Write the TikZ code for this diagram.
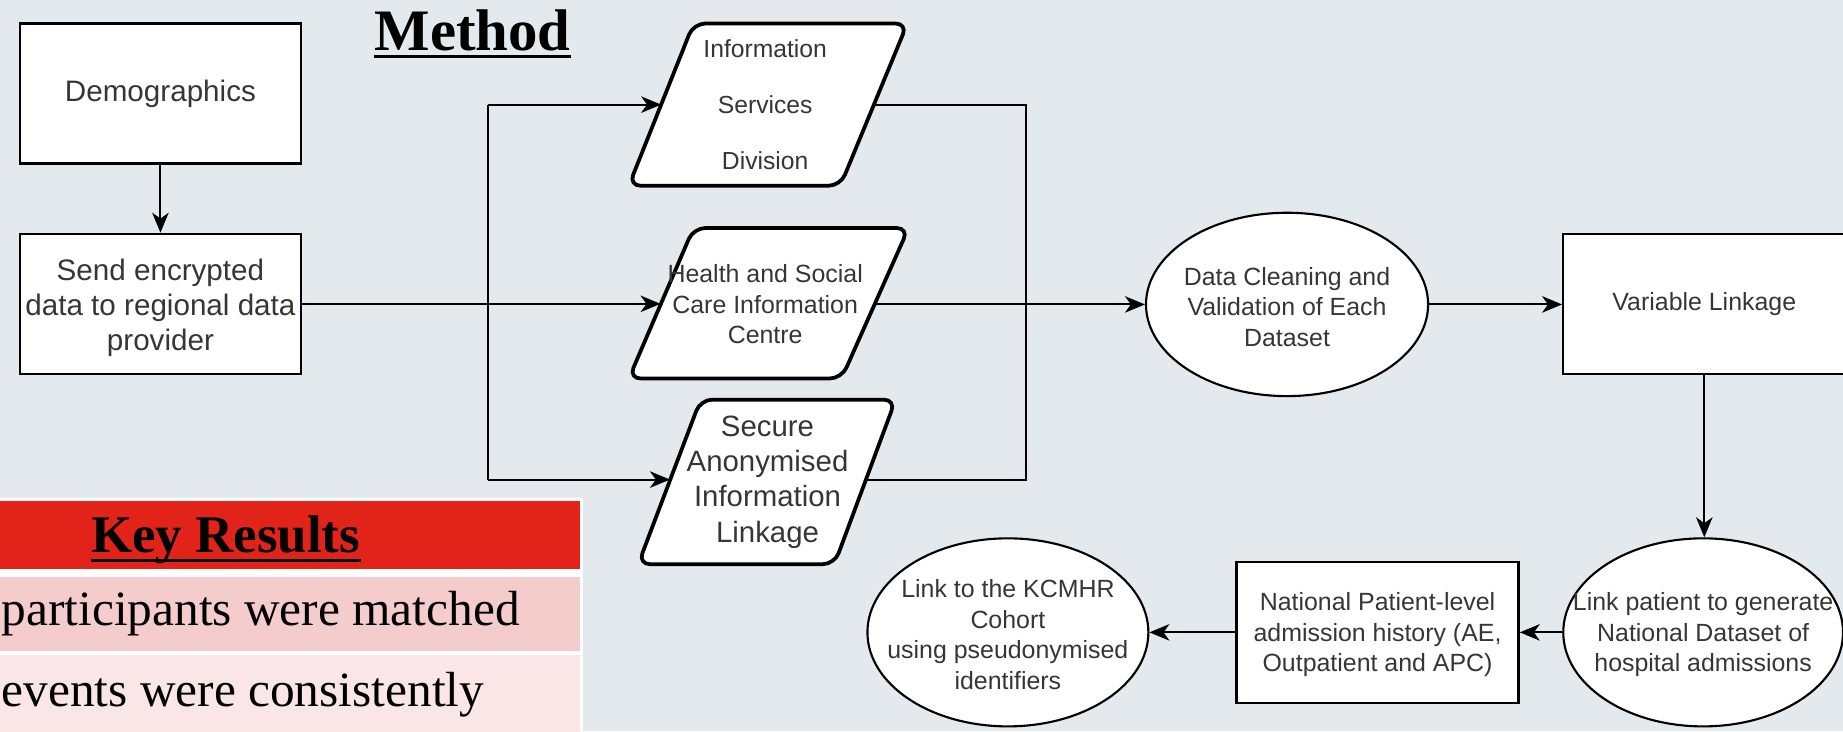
\documentclass[tikz,border=0pt]{standalone}
\usepackage{fontspec}
\setmainfont{Liberation Sans}
\newfontfamily\serifface{Liberation Serif}
\usetikzlibrary{shapes.geometric,arrows.meta}
\definecolor{bg}{HTML}{E3E9EC}
\definecolor{txt}{HTML}{363636}
\definecolor{krred}{HTML}{E2231A}
\definecolor{krpink}{HTML}{F4CCCC}
\definecolor{krlight}{HTML}{FAE6E6}
\begin{document}
\begin{tikzpicture}[x=0.5pt,y=-0.5pt,
  conn/.style={draw=black,line width=0.9pt},
  arr/.style={conn,-{Stealth[length=8.5pt,width=7pt,inset=2.5pt]}},
  boxnode/.style={draw=black,line width=1pt,fill=white,rectangle,inner sep=0pt,align=center,text=txt},
  ellnode/.style={draw=black,line width=0.9pt,fill=white,ellipse,inner sep=0pt},
  lbl/.style={align=center,text=txt,inner sep=0pt,font=\fontsize{10.6}{13}\selectfont},
  para/.style={draw=black,line width=1.6pt,fill=white,rounded corners=5pt},
  bigtxt/.style={font=\fontsize{12.6}{15}\selectfont},
  smalltxt/.style={font=\fontsize{10.6}{13}\selectfont},
  titletxt/.style={inner sep=0pt,font=\serifface\bfseries\fontsize{25}{30}\selectfont},
  tabtxt/.style={inner sep=0pt,font=\serifface\fontsize{21}{25}\selectfont}
]
\useasboundingbox (0,0) rectangle (1568,622);
\clip (0,0) rectangle (1568,622);
\fill[bg] (0,0) rectangle (1568,622);

% ---------- Key Results table ----------
\fill[white] (-10,424) rectangle (496,640);
\fill[krred] (-10,426.5) rectangle (493.5,484);
\fill[krpink] (-10,490.5) rectangle (493.5,554);
\fill[krlight] (-10,557.5) rectangle (493.5,640);
\node[titletxt,font=\serifface\bfseries\fontsize{22.5}{27}\selectfont,anchor=base] (keyres) at (192,470) {Key Results};
\draw[line width=1.2pt] ([yshift=-3.5pt]keyres.base west) -- ([yshift=-3.5pt]keyres.base east);
\node[tabtxt,anchor=base west] (row1) at (1,532) {participants were matched};
\node[tabtxt,anchor=base west] (row2) at (1,601) {events were consistently};

% ---------- title ----------
\node[titletxt,anchor=base] (method) at (402,43) {Method};
\draw[line width=1.2pt] ([yshift=-2.5pt]method.base west) -- ([yshift=-2.5pt]method.base east);

% ---------- left boxes ----------
\node[boxnode,bigtxt,minimum width=119.5pt,minimum height=59.5pt] (demo) at (136.5,79.5) {Demographics};
\node[boxnode,minimum width=119.5pt,minimum height=59.5pt] (send) at (136.5,258.5) {};
\node[lbl,bigtxt] (sendt) at (136.5,262) {Send encrypted\\data to regional data\\provider};

% ---------- coordinates ----------
\coordinate (p1l) at (562.5,89);
\coordinate (p1r) at (743.5,89);
\coordinate (p2l) at (562,259);
\coordinate (p2r) at (744,259);
\coordinate (p3l) at (570,408);
\coordinate (p3r) at (737,408);
\coordinate (lt) at (415,89);
\coordinate (lb) at (415,408);
\coordinate (rt) at (873,89);
\coordinate (rb) at (873,408);

% ---------- right side nodes ----------
\node[ellnode,minimum width=120pt,minimum height=78pt] (ell1) at (1095,259) {};
\node[lbl] (ell1t) at (1095,261) {Data Cleaning and\\Validation of Each\\Dataset};
\node[boxnode,smalltxt,minimum width=120pt,minimum height=59.5pt] (varl) at (1450,258.5) {Variable Linkage};
\node[ellnode,minimum width=119pt,minimum height=80pt] (ell2) at (1449,538) {};
\node[lbl] (ell2t) at (1449,540) {Link patient to generate\\National Dataset of\\hospital admissions};
\node[boxnode,minimum width=120pt,minimum height=60pt] (natl) at (1172,538) {};
\node[lbl] (natlt) at (1172,540) {National Patient-level\\admission history (AE,\\Outpatient and APC)};
\node[ellnode,minimum width=119.5pt,minimum height=80pt] (ell3) at (857.5,538) {};
\node[lbl] (ell3t) at (857.5,540) {Link to the KCMHR\\Cohort\\using pseudonymised\\identifiers};

% ---------- connectors ----------
\draw[arr] (demo.south) -- (send.north);
\draw[conn] (lb) -- (lt);
\draw[arr] (lt) -- (p1l);
\draw[arr] (lb) -- (p3l);
\draw[arr] (send.east) -- (send.east -| p2l);
\draw[conn] (p1r) -- (rt) -- (rb) -- (p3r);
\draw[arr] (p2r) -- (ell1.west);
\draw[arr] (ell1.east) -- (ell1.east -| varl.west);
\draw[arr] (varl.south) -- (varl.south |- ell2.north);
\draw[arr] (ell2.west) -- (ell2.west -| natl.east);
\draw[arr] (natl.west) -- (natl.west -| ell3.east);

% ---------- parallelograms ----------
\draw[para] (590,20) -- (772,20) -- (715,158) -- (535,158) -- cycle;
\node[lbl,font=\fontsize{10.5}{24}\selectfont] (isd) at (651,89) {Information\\Services\\Division};
\draw[para] (590,194) -- (773,194) -- (716,322) -- (535,322) -- cycle;
\node[lbl] (hscic) at (651,259) {Health and Social\\Care Information\\Centre};
\draw[para] (596,340) -- (762,340) -- (710,480) -- (543,480) -- cycle;
\node[lbl,font=\fontsize{12.5}{15}\selectfont] (sail) at (653,410) {Secure\\Anonymised\\Information\\Linkage};
\end{tikzpicture}
\end{document}
